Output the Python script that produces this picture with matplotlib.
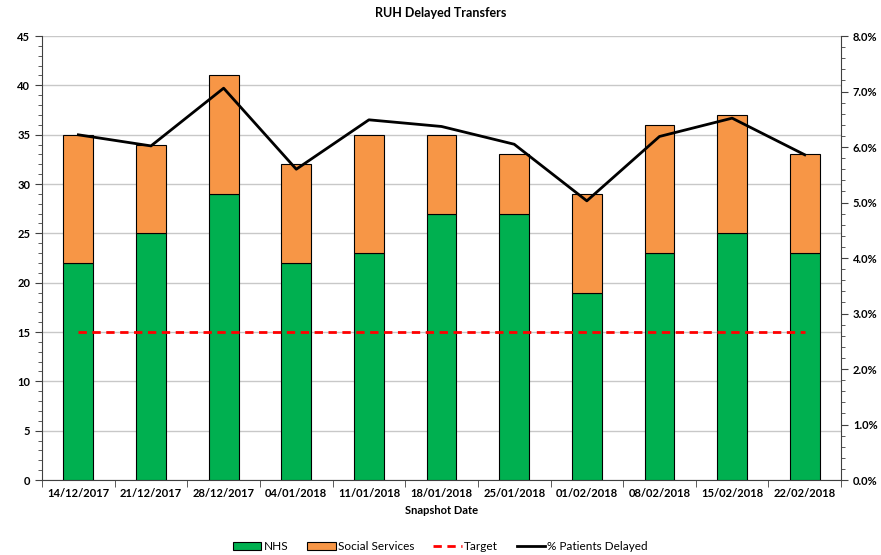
import matplotlib
matplotlib.use("Agg")
import matplotlib.pyplot as plt
import numpy as np
from matplotlib.ticker import MultipleLocator, PercentFormatter
from matplotlib.patches import Patch
from matplotlib.lines import Line2D

plt.rcParams['font.family'] = ['Lato', 'DejaVu Sans']

# data
dates = ['14/12/2017', '21/12/2017', '28/12/2017', '04/01/2018', '11/01/2018', '18/01/2018',
         '25/01/2018', '01/02/2018', '08/02/2018', '15/02/2018', '22/02/2018']
nhs = [22, 25, 29, 22, 23, 27, 27, 19, 23, 25, 23]
social = [13, 9, 12, 10, 12, 8, 6, 10, 13, 12, 10]
target = [15] * len(dates)
pct_delayed = [6.22, 6.02, 7.06, 5.60, 6.49, 6.37, 6.05, 5.03, 6.19, 6.52, 5.86]

green = '#00b050'
orange = '#f79646'
grid_col = '#c8c8c8'
axis_col = '#404040'

fig = plt.figure(figsize=(8.81, 5.55), dpi=100)
ax = fig.add_axes([0.0477, 0.1351, 0.907, 0.80])
x = np.arange(len(dates))
bw = 0.41

ax.bar(x, nhs, bw, color=green, edgecolor='black', linewidth=0.8, zorder=3)
ax.bar(x, social, bw, bottom=nhs, color=orange, edgecolor='black', linewidth=0.8, zorder=3)
ax.plot(x, target, color='#ff0000', linestyle=(0, (3, 2)), linewidth=2, zorder=4)

ax.set_xlim(-0.5, len(dates) - 0.5)
ax.set_ylim(0, 45)
ax.yaxis.set_major_locator(MultipleLocator(5))
ax.yaxis.set_minor_locator(MultipleLocator(1))
ax.set_xticks(x)
ax.set_xticklabels(dates, fontsize=8, fontweight='bold')
ax.set_xticks(np.arange(-0.5, len(dates)), minor=True)
ax.tick_params(axis='x', which='major', length=0, pad=6)
ax.tick_params(axis='x', which='minor', length=5, color=axis_col)
ax.tick_params(axis='y', which='major', length=5, labelsize=8, color=axis_col)
ax.tick_params(axis='y', which='minor', length=3, color=axis_col)
for lab in ax.get_yticklabels():
    lab.set_fontweight('bold')
ax.grid(axis='y', which='major', color=grid_col, linewidth=1, zorder=0)
ax.set_axisbelow(True)
for s in ['top', 'right']:
    ax.spines[s].set_visible(False)
for s in ['left', 'bottom']:
    ax.spines[s].set_color(axis_col)
ax.set_xlabel('Snapshot Date', fontsize=8, fontweight='bold', labelpad=4)

ax2 = ax.twinx()
ax2.plot(x, pct_delayed, color='black', linewidth=2, zorder=5)
ax2.set_ylim(0, 8)
ax2.yaxis.set_major_locator(MultipleLocator(1))
ax2.yaxis.set_minor_locator(MultipleLocator(0.2))
ax2.yaxis.set_major_formatter(PercentFormatter(decimals=1))
ax2.tick_params(axis='y', which='major', length=5, labelsize=8, color=axis_col)
ax2.tick_params(axis='y', which='minor', length=3, color=axis_col)
for lab in ax2.get_yticklabels():
    lab.set_fontweight('bold')
for s in ['top', 'left', 'bottom']:
    ax2.spines[s].set_visible(False)
ax2.spines['right'].set_color(axis_col)

fig.suptitle('RUH Delayed Transfers', fontsize=9, fontweight='bold', y=0.987)

handles = [
    Patch(facecolor=green, edgecolor='black', linewidth=0.8),
    Patch(facecolor=orange, edgecolor='black', linewidth=0.8),
    Line2D([], [], color='#ff0000', linestyle=(0, (3, 2)), linewidth=2),
    Line2D([], [], color='black', linewidth=2),
]
fig.legend(handles, ['NHS', 'Social Services', 'Target', '% Patients Delayed'],
           loc='lower center', bbox_to_anchor=(0.5, -0.014), ncol=4, frameon=False,
           fontsize=8.5, handlelength=2.4, handleheight=0.6, columnspacing=1.6, handletextpad=0.2)

fig.savefig('out.png', dpi=100)
